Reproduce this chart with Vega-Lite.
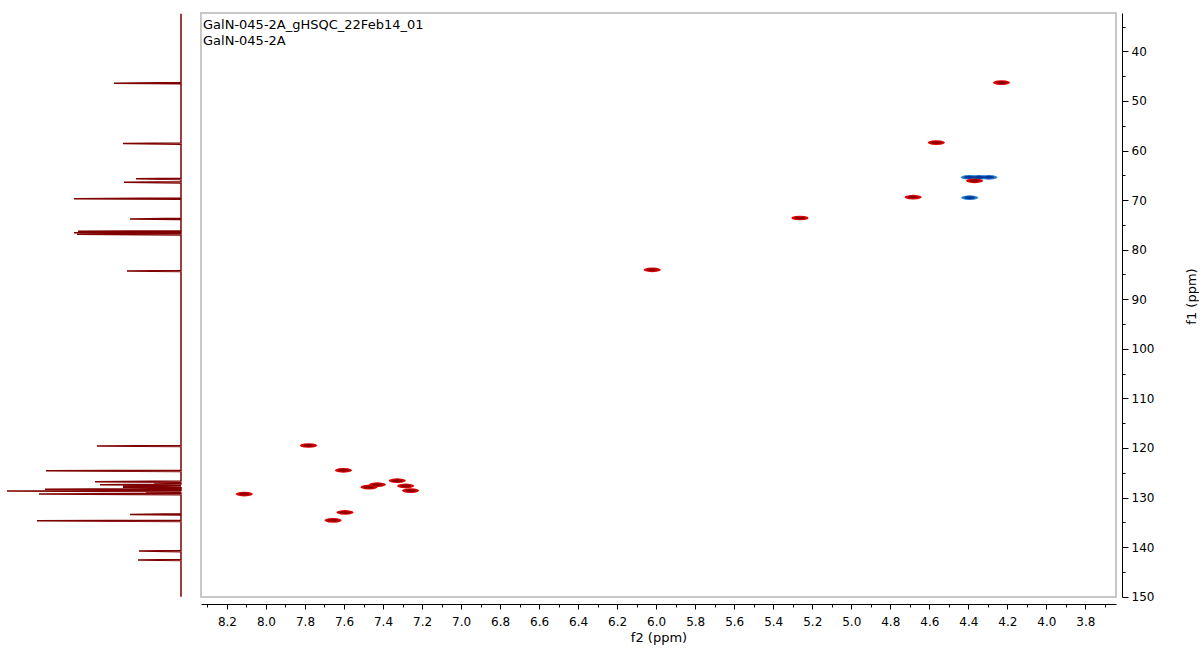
{
  "$schema": "https://vega.github.io/schema/vega-lite/v6.json",
  "padding": {"left": 0, "top": 10, "right": 0, "bottom": 0},
  "background": "white",
  "spacing": 20,
  "bounds": "flush",
  "config": {
    "view": {"stroke": null},
    "font": "DejaVu Sans",
    "axis": {
      "domainColor": "#000000", "tickColor": "#000000", "labelColor": "#000000", "titleColor": "#000000",
      "labelFont": "DejaVu Sans", "titleFont": "DejaVu Sans", "labelFontSize": 12, "titleFontSize": 13,
      "titleFontWeight": "normal", "grid": false, "domainWidth": 1, "tickWidth": 1
    }
  },
  "datasets": {
    "proj": [
      {"f1": 32.4, "intensity": 0},
      {"f1": 46.28, "intensity": 0}, {"f1": 46.4, "intensity": 67}, {"f1": 46.52, "intensity": 0},
      {"f1": 58.48, "intensity": 0}, {"f1": 58.6, "intensity": 58}, {"f1": 58.72, "intensity": 0},
      {"f1": 65.58, "intensity": 0}, {"f1": 65.7, "intensity": 45}, {"f1": 65.82, "intensity": 0},
      {"f1": 66.28, "intensity": 0}, {"f1": 66.4, "intensity": 57}, {"f1": 66.52, "intensity": 0},
      {"f1": 69.58, "intensity": 0}, {"f1": 69.7, "intensity": 107}, {"f1": 69.82, "intensity": 0},
      {"f1": 73.68, "intensity": 0}, {"f1": 73.8, "intensity": 51}, {"f1": 73.92, "intensity": 0},
      {"f1": 76.18, "intensity": 0}, {"f1": 76.3, "intensity": 103}, {"f1": 76.42, "intensity": 0},
      {"f1": 76.48, "intensity": 0}, {"f1": 76.6, "intensity": 107}, {"f1": 76.72, "intensity": 0},
      {"f1": 76.78, "intensity": 0}, {"f1": 76.9, "intensity": 104}, {"f1": 77.02, "intensity": 0},
      {"f1": 84.18, "intensity": 0}, {"f1": 84.3, "intensity": 54}, {"f1": 84.42, "intensity": 0},
      {"f1": 119.48, "intensity": 0}, {"f1": 119.6, "intensity": 84}, {"f1": 119.72, "intensity": 0},
      {"f1": 124.48, "intensity": 0}, {"f1": 124.6, "intensity": 135}, {"f1": 124.72, "intensity": 0},
      {"f1": 126.68, "intensity": 0}, {"f1": 126.8, "intensity": 86}, {"f1": 126.9, "intensity": 0},
      {"f1": 127.0, "intensity": 27}, {"f1": 127.1, "intensity": 0},
      {"f1": 127.28, "intensity": 0}, {"f1": 127.4, "intensity": 81}, {"f1": 127.52, "intensity": 0},
      {"f1": 127.65, "intensity": 58}, {"f1": 127.77, "intensity": 0},
      {"f1": 127.9, "intensity": 58}, {"f1": 128.02, "intensity": 0},
      {"f1": 128.18, "intensity": 0}, {"f1": 128.3, "intensity": 136}, {"f1": 128.42, "intensity": 0},
      {"f1": 128.58, "intensity": 0}, {"f1": 128.7, "intensity": 174}, {"f1": 128.82, "intensity": 0},
      {"f1": 128.95, "intensity": 35}, {"f1": 129.07, "intensity": 0},
      {"f1": 129.18, "intensity": 0}, {"f1": 129.3, "intensity": 142}, {"f1": 129.42, "intensity": 0},
      {"f1": 133.28, "intensity": 0}, {"f1": 133.4, "intensity": 51}, {"f1": 133.52, "intensity": 0},
      {"f1": 134.58, "intensity": 0}, {"f1": 134.7, "intensity": 144}, {"f1": 134.82, "intensity": 0},
      {"f1": 140.68, "intensity": 0}, {"f1": 140.8, "intensity": 42}, {"f1": 140.92, "intensity": 0},
      {"f1": 142.48, "intensity": 0}, {"f1": 142.6, "intensity": 43}, {"f1": 142.72, "intensity": 0},
      {"f1": 150.0, "intensity": 0}
    ],
    "peaks": [
      {"f2": 4.23, "f1": 46.3, "phase": "pos"},
      {"f2": 4.564, "f1": 58.4, "phase": "pos"},
      {"f2": 4.395, "f1": 65.4, "phase": "neg"},
      {"f2": 4.345, "f1": 65.4, "phase": "neg"},
      {"f2": 4.295, "f1": 65.4, "phase": "neg"},
      {"f2": 4.368, "f1": 66.1, "phase": "pos"},
      {"f2": 4.683, "f1": 69.4, "phase": "pos"},
      {"f2": 4.393, "f1": 69.5, "phase": "neg"},
      {"f2": 5.263, "f1": 73.6, "phase": "pos"},
      {"f2": 6.02, "f1": 84.06, "phase": "pos"},
      {"f2": 7.782, "f1": 119.5, "phase": "pos"},
      {"f2": 7.603, "f1": 124.5, "phase": "pos"},
      {"f2": 8.111, "f1": 129.3, "phase": "pos"},
      {"f2": 7.429, "f1": 127.4, "phase": "pos"},
      {"f2": 7.472, "f1": 127.9, "phase": "pos"},
      {"f2": 7.327, "f1": 126.6, "phase": "pos"},
      {"f2": 7.284, "f1": 127.65, "phase": "pos"},
      {"f2": 7.259, "f1": 128.6, "phase": "pos"},
      {"f2": 7.595, "f1": 133.0, "phase": "pos"},
      {"f2": 7.656, "f1": 134.6, "phase": "pos"}
    ]
  },
  "hconcat": [
    {
      "width": 181,
      "height": 584,
      "data": {"name": "proj"},
      "mark": {"type": "line", "color": "#7f0000", "strokeWidth": 1.5},
      "encoding": {
        "x": {"field": "intensity", "type": "quantitative", "scale": {"domain": [0, 181], "reverse": true, "nice": false, "zero": false}, "axis": null},
        "y": {"field": "f1", "type": "quantitative", "scale": {"domain": [32.25, 150.06], "reverse": true, "nice": false, "zero": false}, "axis": null},
        "order": {"field": "f1", "type": "quantitative"}
      }
    },
    {
      "width": 915,
      "height": 584,
      "view": {"stroke": "#c8c8c8", "strokeWidth": 2},
      "title": {
        "text": ["GalN-045-2A_gHSQC_22Feb14_01", "GalN-045-2A"],
        "anchor": "start", "frame": "group", "orient": "top", "offset": -35,
        "baseline": "top", "font": "DejaVu Sans", "fontSize": 13, "fontWeight": "normal",
        "color": "#000000", "lineHeight": 16, "dx": 2
      },
      "data": {"name": "peaks"},
      "encoding": {
        "x": {
          "field": "f2", "type": "quantitative", "title": "f2 (ppm)",
          "scale": {"domain": [3.643, 8.333], "reverse": true, "nice": false, "zero": false},
          "axis": {
            "orient": "bottom", "offset": 7,
            "values": [3.7, 3.8, 3.9, 4.0, 4.1, 4.2, 4.3, 4.4, 4.5, 4.6, 4.7, 4.8, 4.9, 5.0, 5.1, 5.2, 5.3, 5.4, 5.5, 5.6, 5.7, 5.8, 5.9, 6.0, 6.1, 6.2, 6.3, 6.4, 6.5, 6.6, 6.7, 6.8, 6.9, 7.0, 7.1, 7.2, 7.3, 7.4, 7.5, 7.6, 7.7, 7.8, 7.9, 8.0, 8.1, 8.2, 8.3],
            "tickSize": {"condition": {"test": "round(datum.value*10) % 2 === 0", "value": 5}, "value": 3},
            "labelExpr": "round(datum.value*10) % 2 === 0 ? format(datum.value, '.1f') : ''",
            "labelOverlap": false, "labelFlush": false, "labelPadding": 7, "titlePadding": 4
          }
        },
        "y": {
          "field": "f1", "type": "quantitative", "title": "f1 (ppm)",
          "scale": {"domain": [32.25, 150.06], "reverse": true, "nice": false, "zero": false},
          "axis": {
            "orient": "right", "offset": 6,
            "values": [35, 40, 45, 50, 55, 60, 65, 70, 75, 80, 85, 90, 95, 100, 105, 110, 115, 120, 125, 130, 135, 140, 145, 150],
            "tickSize": {"condition": {"test": "datum.value % 10 === 0", "value": 6}, "value": 3},
            "labelExpr": "datum.value % 10 === 0 ? datum.label : ''",
            "labelOverlap": false, "labelFlush": false, "labelPadding": 3,
            "titleAngle": 270, "titleX": 69, "titleY": 283, "titleAlign": "center", "titleBaseline": "middle"
          }
        }
      },
      "layer": [
        {
          "mark": {"type": "point", "shape": "M1,0L0.866,0.135L0.5,0.234L0,0.27L-0.5,0.234L-0.866,0.135L-1,0L-0.866,-0.135L-0.5,-0.234L0,-0.27L0.5,-0.234L0.866,-0.135Z", "filled": true, "size": 300, "opacity": 1, "strokeWidth": 0},
          "encoding": {
            "color": {"condition": {"test": "datum.phase === 'neg'", "value": "#2a7fd2"}, "value": "#e00000"}
          }
        },
        {
          "mark": {"type": "point", "shape": "M1,0L0.866,0.135L0.5,0.234L0,0.27L-0.5,0.234L-0.866,0.135L-1,0L-0.866,-0.135L-0.5,-0.234L0,-0.27L0.5,-0.234L0.866,-0.135Z", "filled": true, "size": 120, "opacity": 1, "strokeWidth": 0},
          "encoding": {
            "color": {"condition": {"test": "datum.phase === 'neg'", "value": "#003a96"}, "value": "#930000"}
          }
        }
      ]
    }
  ],
  "resolve": {"scale": {"x": "independent", "y": "independent"}}
}
